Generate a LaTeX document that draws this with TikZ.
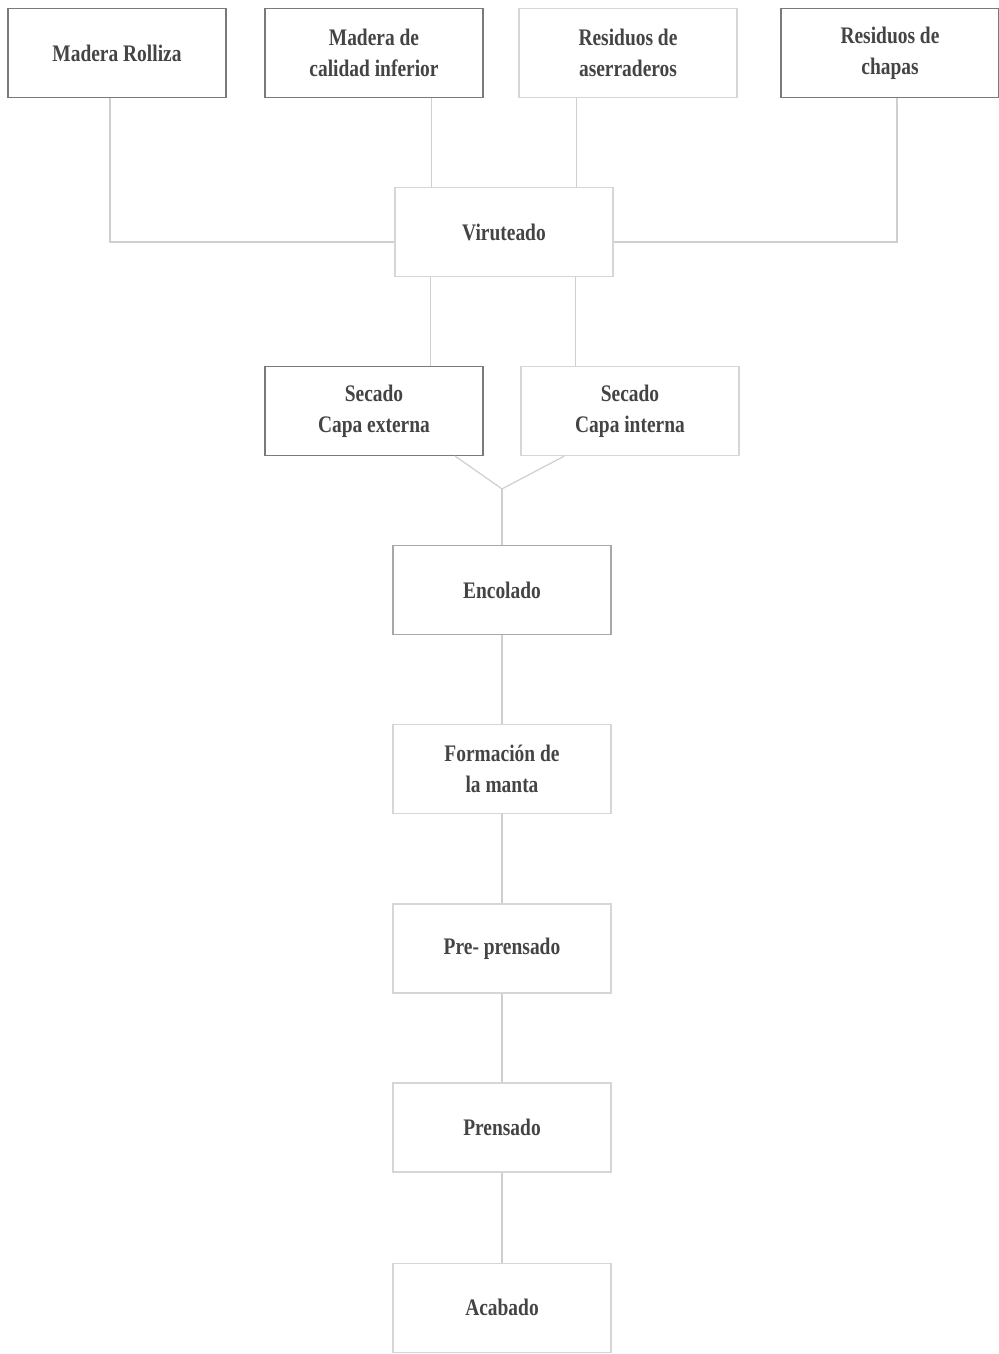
\documentclass[tikz,border=0pt]{standalone}
\usepackage{fontspec}
\setmainfont[FakeStretch=0.82]{Liberation Serif}
\usepackage{tikz}
\usetikzlibrary{positioning, calc}
\definecolor{txtgray}{HTML}{444444}
\definecolor{darkline}{HTML}{7A7A7A}
\definecolor{midline}{HTML}{A8A8A8}
\definecolor{lightline}{HTML}{D6D6D6}
\definecolor{connline}{HTML}{CFCFCF}

\begin{document}
\begin{tikzpicture}[
  x=0.02cm, y=-0.02cm,
  box/.style={
    rectangle, draw=#1, line width=0.7pt,
    minimum width=4.36cm, minimum height=1.78cm,
    font=\fontsize{13.5}{17.5}\selectfont\bfseries, text=txtgray,
    align=center, inner sep=2pt
  },
  box/.default=lightline,
  conn/.style={draw=connline, line width=0.7pt},
]
\useasboundingbox (0,0) rectangle (999,1354);

% Raw materials
\node[box=darkline] (mr)  at (117,53) {Madera Rolliza};
\node[box=darkline] (mci) at (374,53) {Madera de\\calidad inferior};
\node[box]          (ra)  at (628,53) {Residuos de\\aserraderos};
\node[box=darkline] (rc)  at (890,53) {Residuos de\\chapas};

% Chipping
\node[box] (vir) at (504,232) {Viruteado};

% Drying
\node[box=darkline] (sce) at (374,411) {Secado\\Capa externa};
\node[box]          (sci) at (630,411) {Secado\\Capa interna};

% Main line
\node[box=midline] (enc) at (502,590) {Encolado};
\node[box, below=1.78cm of enc] (form) {Formación de\\la manta};
\node[box, below=1.78cm of form] (pre) {Pre- prensado};
\node[box, below=1.78cm of pre] (pren) {Prensado};
\node[box, below=1.8cm of pren] (acab) {Acabado};

% Helper points
\coordinate (mrs) at ($(mr.south)+(-7,0)$);
\coordinate (rcs) at ($(rc.south)+(7,0)$);
\coordinate (vwl) at ($(vir.west)+(0,10)$);
\coordinate (vwr) at ($(vir.east)+(0,10)$);
\coordinate (vtl) at ($(vir.north west)!0.17!(vir.north east)$);
\coordinate (vtr) at ($(vir.north west)!0.83!(vir.north east)$);
\coordinate (vbl) at ($(vir.south west)!0.165!(vir.south east)$);
\coordinate (vbr) at ($(vir.south west)!0.825!(vir.south east)$);
\coordinate (sbe) at ($(sce.south west)!0.87!(sce.south east)$);
\coordinate (sbi) at ($(sci.south west)!0.2!(sci.south east)$);
\coordinate (mix) at ($(enc.north)+(0,-56)$);

% Connectors
\draw[conn] (mrs) |- (vwl);
\draw[conn] (mci.south -| vtl) -- (vtl);
\draw[conn] (ra.south -| vtr) -- (vtr);
\draw[conn] (rcs) |- (vwr);
\draw[conn] (vbl) -- (sce.north -| vbl);
\draw[conn] (vbr) -- (sci.north -| vbr);
\draw[conn] (sbe) -- (mix) -- (sbi);
\draw[conn] (mix) -- (enc.north);
\draw[conn] (enc) -- (form);
\draw[conn] (form) -- (pre);
\draw[conn] (pre) -- (pren);
\draw[conn] (pren) -- (acab);

\end{tikzpicture}
\end{document}
